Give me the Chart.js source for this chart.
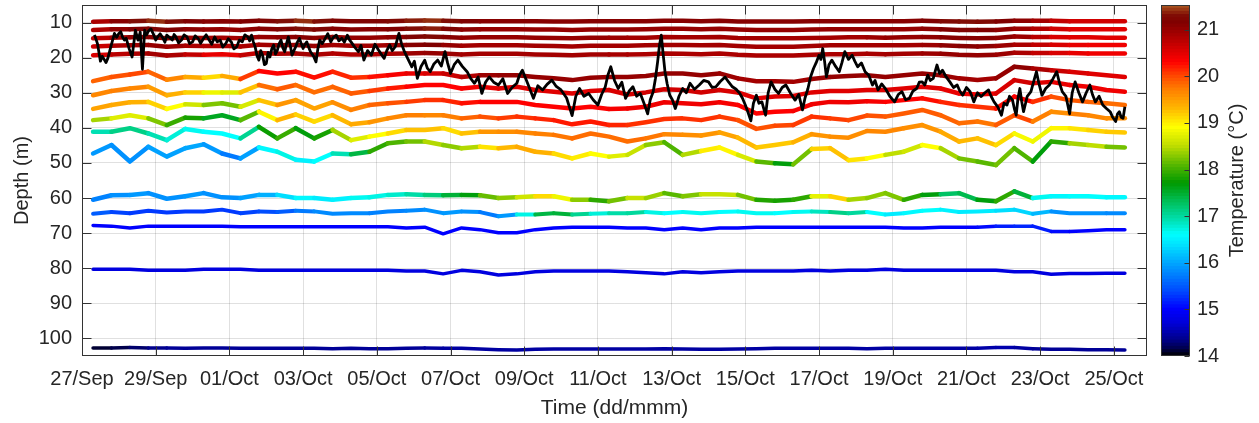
<!DOCTYPE html>
<html><head><meta charset="utf-8">
<script src="https://cdn.jsdelivr.net/npm/chart.js@4.4.0/dist/chart.umd.min.js"></script>
<style>
html,body{margin:0;padding:0;background:#fff;}
#wrap{position:relative;width:1259px;height:423px;overflow:hidden;}
#main{position:absolute;left:0;top:0;width:1259px;height:423px;}
#cbar{position:absolute;left:1150px;top:0;width:109px;height:423px;}
</style></head><body>
<div id="wrap"><canvas id="main" width="1259" height="423"></canvas><canvas id="cbar" width="109" height="423"></canvas></div>
<script>
// ---- axis ticks / labels ----
const xTickDays = [0,2,4,6,8,10,12,14,16,18,20,22,24,26,28];
const xTickLabels = ['27/Sep','29/Sep','01/Oct','03/Oct','05/Oct','07/Oct','09/Oct','11/Oct','13/Oct','15/Oct','17/Oct','19/Oct','21/Oct','23/Oct','25/Oct'];
const yTicks = [10,20,30,40,50,60,70,80,90,100];
const cbTicks = [14,15,16,17,18,19,20,21];

// ---- sample times (days since 27 Sep 00:00) ----
const tGrid = [0.3,0.8,1.3,1.8,2.3,2.8,3.3,3.8,4.3,4.8,5.3,5.8,6.3,6.8,7.3,7.8,8.3,8.8,9.3,9.8,10.3,10.8,11.3,11.8,12.3,12.8,13.3,13.8,14.3,14.8,15.3,15.8,16.3,16.8,17.3,17.8,18.3,18.8,19.3,19.8,20.3,20.8,21.3,21.8,22.3,22.8,23.3,23.8,24.3,24.8,25.3,25.8,26.3,26.8,27.3,27.8,28.3];

// ---- sensor depths (m) and temperatures (degC) ----
const dep10 = [9.8,9.6,9.6,9.5,9.8,9.6,9.7,9.6,9.7,9.5,9.6,9.5,9.7,9.5, 9.6,9.6,9.6,9.5,9.4,9.5,9.6,9.6,9.6,9.6,9.6,9.7,9.7,9.6,9.6, 9.6,9.6,9.5,9.5,9.6,9.5,9.7,9.7,9.7,9.7,9.6,9.6,9.6,9.6, 9.6,9.6,9.5,9.6,9.7,9.8,9.7,9.5,9.5,9.5,9.6,9.6,9.6,9.6];
const tmp10 = [20.7,21.0,21.2,21.4,21.4,21.2,21.1,21.1,21.1,21.2,21.2,21.4,21.4,21.2, 21.2,21.2,21.2,21.3,21.4,21.4,21.2,21.1,21.1,21.1,21.1,21.1,21.1,21.1,21.1, 21.1,21.1,21.1,21.1,21.1,21.1,21.1,21.1,21.1,21.1,21.1,21.1,21.1,21.1, 21.1,21.1,21.1,21.2,21.3,21.3,21.2,21.1,21.0,20.8,20.6,20.6,20.6,20.6];
const dep12 = [12.1,11.9,11.9,11.8,12.1,11.9,12.0,11.9,12.1,11.8,11.9,11.8,12.0,11.8, 12.0,11.9,11.9,11.8,11.7,11.8,12.0,11.9,11.9,11.9,12.0,12.0,12.1,12.0,12.0, 12.0,11.9,11.8,11.8,11.9,11.8,12.0,12.1,12.1,12.1,12.0,11.9,11.9,11.9, 11.9,11.9,11.8,11.9,12.1,12.1,12.1,11.8,11.8,11.8,11.9,11.9,11.9,11.9];
const tmp12 = [20.7,21.0,21.1,21.2,21.2,21.1,21.0,21.0,21.0,21.1,21.1,21.3,21.3,21.1, 21.1,21.1,21.1,21.2,21.4,21.3,21.1,21.0,21.0,21.0,21.0,21.0,21.0,21.0,21.0, 21.0,21.0,21.0,21.0,21.0,21.0,21.0,21.0,21.0,21.0,21.0,21.0,21.0,21.0, 21.0,21.0,21.0,21.1,21.2,21.2,21.1,21.0,20.9,20.7,20.5,20.5,20.5,20.5];
const dep14 = [14.5,14.3,14.2,14.1,14.5,14.3,14.4,14.3,14.5,14.1,14.2,14.1,14.4,14.1, 14.3,14.3,14.2,14.1,14.0,14.1,14.3,14.2,14.2,14.2,14.3,14.4,14.5,14.3,14.3, 14.3,14.3,14.1,14.2,14.2,14.1,14.4,14.5,14.5,14.5,14.4,14.3,14.2,14.2, 14.3,14.2,14.1,14.2,14.4,14.5,14.4,14.0,14.1,14.1,14.2,14.2,14.3,14.3];
const tmp14 = [20.6,20.9,21.0,21.1,21.1,21.0,20.9,20.9,20.9,21.0,21.0,21.1,21.1,21.0, 21.0,21.0,21.0,21.1,21.3,21.2,21.0,21.0,21.0,21.0,21.0,21.0,21.0,21.0,21.0, 20.9,20.9,20.9,20.9,20.9,20.9,20.9,20.9,20.9,20.9,20.9,20.9,20.9,20.9, 21.0,21.0,21.0,21.1,21.1,21.1,21.1,21.0,20.9,20.6,20.5,20.5,20.5,20.5];
const dep16 = [16.8,16.6,16.5,16.4,16.9,16.6,16.7,16.6,16.8,16.3,16.5,16.4,16.7,16.4, 16.6,16.6,16.5,16.4,16.3,16.4,16.6,16.5,16.5,16.5,16.6,16.7,16.8,16.6,16.6, 16.6,16.5,16.4,16.4,16.5,16.4,16.7,16.9,16.9,16.9,16.7,16.5,16.5,16.5, 16.5,16.5,16.4,16.5,16.7,16.8,16.7,16.3,16.3,16.3,16.4,16.4,16.4,16.4];
const tmp16 = [20.5,20.8,20.9,21.0,21.0,20.9,20.8,20.8,20.8,20.9,20.9,21.0,21.0,20.9, 20.9,20.9,20.9,21.0,21.2,21.1,20.9,20.9,20.9,20.9,20.9,20.9,20.9,20.9,20.9, 20.9,20.9,20.9,20.9,20.9,20.9,20.9,20.9,20.9,20.9,20.9,20.9,20.9,20.9, 20.9,20.9,20.9,21.0,21.1,21.1,21.0,20.9,20.8,20.6,20.5,20.4,20.4,20.4];
const dep19 = [19.3,19.1,18.9,18.8,19.4,19.1,19.2,19.0,19.3,18.7,18.9,18.8,19.2,18.8, 19.1,19.1,18.9,18.8,18.7,18.8,19.1,18.9,18.9,18.9,19.1,19.2,19.3,19.1,19.1, 19.1,19.0,18.8,18.9,19.0,18.8,19.2,19.4,19.4,19.4,19.2,19.0,19.0,18.9, 19.0,18.9,18.8,18.9,19.2,19.3,19.2,18.6,18.7,18.7,18.7,18.8,18.8,18.8];
const tmp19 = [20.4,20.7,20.8,20.9,20.9,20.8,20.6,20.3,20.6,20.8,20.8,20.9,20.9,20.8, 20.8,20.8,20.8,20.9,21.0,21.0,20.9,20.9,20.9,20.9,20.9,20.9,20.9,20.9,20.9, 20.85,20.85,20.85,20.85,20.85,20.85,20.85,20.85,20.85,20.85,20.85,20.85,20.85,20.85, 20.9,20.9,20.9,21.0,21.0,21.0,21.0,20.9,20.8,20.6,20.5,20.4,20.4,20.4];

const depA = [26.7,25.5,24.8,24.0,26.3,25.5,25.7,25.2,26.1,23.8,24.5,24.0,25.7,24.0, 25.7,25.5,25.0,24.5,24.5,24.5,25.5,25.0,25.0,25.0,25.5,25.9,26.4,25.7,25.5, 25.5,25.2,24.5,24.5,25.0,24.5,25.9,26.7,26.7,26.9,26.1,25.5,25.2,25.0, 25.5,25.0,24.5,25.0,25.9,26.4,25.9,22.6,23.1,23.6,24.0,24.5,25.0,25.5];
const tmpA = [19.8,19.9,20.0,20.0,19.7,19.6,19.2,19.0,19.8,20.3,20.3,20.3,20.2,20.3, 20.0,20.2,20.3,20.4,20.5,20.6,20.7,20.9,21.0,21.0,21.0,21.0,21.0,21.0,21.0, 21.0,21.0,21.0,21.0,21.0,21.0,20.9,20.9,20.9,20.9,20.9,21.0,21.0,21.0, 21.0,21.0,21.0,21.0,20.9,20.9,20.9,21.1,21.0,20.7,20.6,20.5,20.5,20.5];
const depB = [30.7,29.5,28.8,28.3,30.7,29.9,29.9,29.9,29.9,27.8,29.0,27.8,29.9,28.3, 30.2,29.5,28.8,28.3,27.8,27.8,28.8,28.3,28.8,28.3,29.2,29.7,30.2,29.5,29.2, 30.5,29.9,29.0,29.2,29.9,29.2,29.9,31.6,31.1,30.9,29.9,29.5,29.5,29.2, 29.2,28.8,28.3,28.8,30.2,30.5,30.2,26.4,27.3,26.9,27.8,28.3,29.2,29.7];
const tmpB = [19.6,19.7,19.7,19.6,19.4,19.3,19.0,18.6,18.8,19.7,19.9,19.9,19.7,19.9, 19.8,20.0,20.1,20.3,20.3,20.3,20.3,20.4,20.5,20.5,20.5,20.5,20.5,20.5,20.5, 20.6,20.6,20.6,20.6,20.6,20.6,20.5,20.5,20.5,20.5,20.5,20.5,20.5,20.5, 20.5,20.5,20.5,20.5,20.4,20.4,20.4,20.7,20.5,20.5,20.4,20.4,20.4,20.4];
const depC = [34.6,33.5,32.7,32.6,34.6,33.3,33.5,33.0,34.0,32.1,33.5,32.1,34.5,32.7, 34.9,33.5,33.0,32.6,32.1,32.1,33.0,32.6,32.6,32.6,33.5,34.0,34.5,34.0,34.6, 34.5,34.0,32.7,33.0,33.3,32.7,33.5,35.9,35.4,35.2,33.3,32.6,32.7,32.4, 32.6,32.1,31.6,32.6,33.5,34.0,34.5,31.1,32.6,31.1,32.1,32.6,33.0,33.5];
const tmpC = [19.5,19.4,19.4,19.3,19.0,18.8,18.4,18.1,18.3,19.0,19.5,19.6,19.3,19.6, 19.6,19.8,19.9,20.0,20.1,20.1,20.2,20.3,20.3,20.3,20.3,20.3,20.3,20.3,20.3, 20.4,20.4,20.4,20.4,20.4,20.4,20.3,20.3,20.3,20.3,20.4,20.4,20.4,20.4, 20.3,20.3,20.3,20.2,20.1,20.1,20.1,20.4,20.2,20.0,19.9,19.9,19.8,19.8];
const depD = [37.8,37.3,36.4,37.3,39.2,37.1,37.3,36.4,37.8,35.4,37.8,36.2,38.2,36.4, 39.0,38.4,37.3,36.4,36.4,36.4,37.3,36.8,37.3,36.8,37.3,37.8,39.0,38.2,39.2, 39.2,38.4,37.5,37.3,37.8,36.8,37.8,40.3,39.4,39.2,36.8,37.3,37.8,36.5, 36.8,35.9,34.9,36.4,38.7,38.2,39.2,36.4,38.2,35.4,35.9,36.4,37.3,37.3];
const tmpD = [18.2,18.6,18.8,18.6,17.9,18.0,17.6,17.5,17.6,18.6,19.3,19.4,18.9,19.3, 19.3,19.5,19.6,19.7,19.7,19.6,19.8,19.9,20.0,20.1,20.1,20.2,20.2,20.2,20.2, 20.1,20.1,20.1,20.1,20.1,20.1,20.0,19.9,20.0,20.0,20.1,20.1,20.0,20.0, 19.9,19.9,19.9,19.9,19.8,19.8,19.7,20.1,19.9,19.5,19.7,19.7,19.6,19.6];
const depE = [41.1,41.1,40.1,41.6,43.5,40.3,41.1,41.6,43.0,39.7,43.0,40.1,43.0,40.6, 43.5,42.5,41.6,40.6,40.6,40.1,41.6,41.1,41.1,41.1,41.6,42.0,43.0,41.6,42.5, 43.9,43.0,41.8,42.0,42.2,41.3,42.8,45.6,44.9,44.1,41.8,42.5,42.8,40.9, 41.1,40.1,39.2,41.1,43.9,43.0,44.9,41.6,43.9,40.1,40.1,40.6,41.1,41.3];
const tmpE = [16.8,17.0,17.2,17.0,16.8,16.7,16.6,16.6,16.6,17.5,18.0,17.9,17.4,18.2, 18.6,18.8,19.0,19.2,19.3,19.2,19.0,19.5,19.6,19.6,19.7,19.7,19.8,19.8,19.8, 19.8,19.8,19.7,19.6,19.6,19.5,19.4,19.2,19.2,19.2,19.5,19.6,19.6,19.6, 19.7,19.6,19.6,19.5,19.3,19.3,19.2,19.0,18.7,18.9,19.0,19.1,19.2,19.2];
const depF = [47.3,44.9,49.6,45.4,48.2,45.8,44.7,47.3,48.7,45.6,46.8,49.1,49.6,47.3, 47.5,46.8,44.4,43.9,43.9,44.9,45.8,45.4,45.8,45.4,46.8,47.3,48.7,47.3,48.2, 47.7,44.9,44.1,47.7,46.6,45.6,47.7,49.6,50.1,50.4,46.0,45.8,49.2,48.7, 47.7,46.8,44.9,45.8,48.7,49.6,50.6,45.8,49.6,43.9,44.4,44.9,45.4,45.6];
const tmpF = [15.8,16.0,15.7,16.0,15.9,16.0,16.0,15.8,15.6,16.3,16.8,16.6,16.4,16.8, 17.0,17.8,18.0,18.1,18.3,18.6,18.0,18.9,19.2,19.4,19.4,19.3,18.9,19.1,18.7, 18.7,18.4,18.2,17.9,19.0,19.0,18.9,18.4,17.8,17.5,18.9,19.4,19.1,19.0, 18.8,18.2,19.0,18.8,18.0,18.4,17.8,18.6,17.5,17.8,18.0,18.8,18.2,18.2];

const dep60 = [60.5,59.2,59.1,58.6,60.2,59.5,58.6,59.8,60.0,59.1,59.1,60.0,60.0,60.5,60.0,59.8,59.1,58.9,59.1,59.2,59.1,59.2,60.0,59.8,59.5,59.5,60.5,60.5,60.9, 60.0,60.0,58.6,59.5,58.9,58.9,59.1,60.5,60.8,60.5,59.5,59.5,60.5,60.0,58.6,60.5,59.1,58.9,58.6,60.5,60.9,58.1,60.0,59.5,59.5,59.5,59.8,59.8];
const tmp60 = [15.7,15.8,15.9,15.9,15.8,15.9,15.9,15.8,15.9,16.0,16.1,16.6,16.5,16.4,16.6,16.7,16.7,16.9,17.0,17.3,17.6,17.7,18.6,18.0,19.2,19.0,18.6,18.0,17.8, 18.6,18.5,18.2,18.0,18.5,18.6,18.5,17.9,17.8,17.8,18.0,19.5,18.8,18.0,18.6,17.9,17.9,17.4,17.1,17.6,17.7,18.1,16.8,16.5,16.6,16.6,16.6,16.5];
const dep64 = [64.5,64.0,64.3,63.6,64.1,63.8,63.8,63.3,64.3,63.8,64.0,63.6,63.8,64.5,64.3,64.3,63.8,63.6,63.3,64.3,63.8,64.0,65.2,64.7,64.7,64.3,64.7,64.5,64.3, 64.3,64.0,64.3,64.0,64.3,64.0,63.8,64.3,64.3,64.0,63.8,64.0,64.3,64.0,64.7,64.3,63.6,63.3,64.0,63.8,63.6,63.3,64.5,63.8,64.3,64.3,64.3,64.3];
const tmp64 = [15.6,15.4,15.3,15.3,15.3,15.3,15.3,15.3,15.3,15.4,15.4,15.6,15.8,15.8,15.8,15.8,15.7,15.8,15.8,15.9,15.9,15.8,15.6,16.2,17.2,17.6,17.3,16.8,16.7, 17.2,16.8,16.6,16.6,16.7,16.6,16.6,16.7,16.6,16.6,16.7,17.0,17.2,16.8,16.4,16.5,16.6,16.6,16.4,16.5,16.4,16.3,16.3,15.9,15.8,15.9,15.8,15.8];
const dep68 = [67.8,68.0,68.5,68.0,68.0,68.0,68.0,68.0,68.2,68.2,68.2,68.2,68.2,68.2,68.2,68.2,68.2,68.5,68.3,70.2,68.5,69.0,69.9,69.9,69.0,68.5,68.3,68.3,68.3, 68.5,68.5,69.0,68.5,69.0,68.5,68.5,68.3,68.3,68.3,68.3,68.3,68.3,68.3,68.3,68.5,68.5,68.3,68.3,68.3,68.0,68.0,68.0,69.5,69.5,69.3,69.0,69.0];
const tmp68 = [15.0,15.0,15.0,15.0,15.0,15.0,15.0,15.0,15.0,15.0,15.0,15.0,15.0,15.0,15.0,15.0,15.0,15.0,15.0,15.0,15.0,15.0,15.0,15.0,15.0,15.0,15.0,15.0,15.0, 15.0,15.0,15.0,15.0,15.0,15.0,15.0,15.0,15.0,15.0,15.0,15.0,15.0,15.0,15.0,15.0,15.0,15.0,15.0,15.0,15.1,15.2,15.2,15.1,15.0,15.0,15.0,15.0];
const dep81 = [80.3,80.3,80.3,80.6,80.6,80.6,80.3,80.3,80.3,80.6,80.6,80.6,80.6,80.6,80.6,80.6,80.6,80.8,80.8,81.6,80.6,81.0,81.9,81.6,81.0,80.8,80.8,80.8,80.8, 81.0,81.3,81.6,81.0,81.3,81.0,80.8,80.8,80.8,80.8,80.6,80.8,80.6,80.6,80.3,80.6,80.6,80.6,80.6,80.6,80.6,81.0,81.0,81.7,81.5,81.5,81.4,81.4];
const tmp81 = [14.75,14.75,14.75,14.75,14.75,14.75,14.75,14.75,14.75,14.75,14.75,14.75,14.75,14.75,14.75,14.75,14.75,14.75,14.75,14.75,14.75,14.75,14.75,14.75,14.75,14.75,14.75,14.75,14.75, 14.75,14.75,14.75,14.75,14.75,14.75,14.75,14.75,14.75,14.75,14.75,14.75,14.75,14.75,14.75,14.75,14.75,14.75,14.75,14.75,14.75,14.75,14.75,14.75,14.75,14.75,14.75,14.75];
const dep103 = [102.7,102.7,102.6,102.7,102.7,102.8,102.7,102.7,102.8,102.8,102.8,102.8,102.8,102.9,102.8,102.9,102.9,102.8,102.7,102.8,102.8,103.0,103.2,103.3,103.1,103.0,103.0,103.0,103.0, 103.0,103.0,102.9,103.0,103.1,103.1,103.0,102.9,102.8,102.8,102.8,102.8,102.8,102.9,102.8,102.8,102.8,102.8,102.8,102.8,102.6,102.6,102.9,103.1,103.1,103.2,103.2,103.3];
const tmp103 = [14.1,14.1,14.2,14.3,14.4,14.4,14.4,14.4,14.4,14.4,14.4,14.4,14.4,14.4,14.4,14.4,14.4,14.4,14.4,14.45,14.45,14.45,14.45,14.45,14.45,14.45,14.45,14.45,14.45, 14.45,14.45,14.45,14.45,14.45,14.45,14.45,14.45,14.45,14.45,14.45,14.45,14.45,14.45,14.45,14.45,14.45,14.45,14.45,14.45,14.5,14.5,14.4,14.4,14.4,14.4,14.4,14.4];

// ---- black line (mixed layer depth): times (days) and depths (m) ----
const bt = [
 0.34,0.42,0.5,0.55,0.6,0.65,0.7,0.78,0.88,0.94,
 1.0,1.05,1.1,1.15,1.2,1.28,1.36,1.45,1.52,1.58,
 1.64,1.7,1.75,1.8,1.87,1.95,2.0,2.05,2.12,2.2,
 2.25,2.3,2.37,2.45,2.5,2.55,2.62,2.7,2.77,2.85,
 2.92,3.0,3.07,3.15,3.22,3.3,3.37,3.45,3.52,3.6,
 3.67,3.75,3.82,3.9,3.97,4.05,4.12,4.2,4.27,4.35,
 4.42,4.5,4.55,4.6,4.65,4.7,4.75,4.8,4.85,4.9,
 4.95,5.0,5.05,5.1,5.15,5.2,5.25,5.3,5.35,5.4,
 5.45,5.5,5.55,5.6,5.65,5.7,5.75,5.8,5.85,5.9,
 5.95,6.0,6.05,6.1,6.15,6.2,6.28,6.35,6.4,6.45,
 6.52,6.6,6.67,6.75,6.82,6.9,6.97,7.05,7.12,7.2,
 7.25,7.3,7.4,7.5,7.57,7.65,7.75,7.85,7.95,8.05,
 8.12,8.2,8.27,8.35,8.42,8.5,8.55,8.6,8.67,8.75,
 8.85,8.95,9.02,9.1,9.2,9.3,9.37,9.45,9.55,9.65,
 9.75,9.85,9.92,10.0,10.1,10.2,10.32,10.45,10.55,10.65,
 10.75,10.85,10.95,11.05,11.17,11.3,11.42,11.55,11.67,11.8,
 11.87,11.95,12.1,12.25,12.37,12.5,12.62,12.75,12.87,13.0,
 13.15,13.3,13.4,13.5,13.62,13.75,13.87,14.0,14.1,14.2,
 14.27,14.35,14.45,14.55,14.65,14.75,14.85,14.95,15.05,15.15,
 15.25,15.35,15.42,15.5,15.56,15.62,15.67,15.72,15.77,15.82,
 15.88,15.95,16.02,16.1,16.2,16.3,16.4,16.5,16.62,16.75,
 16.87,17.0,17.1,17.2,17.32,17.45,17.55,17.65,17.75,17.85,
 17.92,18.0,18.07,18.15,18.22,18.3,18.37,18.45,18.5,18.55,
 18.62,18.7,18.8,18.9,19.0,19.1,19.22,19.35,19.45,19.55,
 19.62,19.7,19.77,19.85,19.92,20.0,20.05,20.1,20.15,20.2,
 20.27,20.35,20.45,20.55,20.62,20.7,20.8,20.9,20.97,21.05,
 21.15,21.25,21.35,21.45,21.52,21.6,21.7,21.8,21.92,22.05,
 22.15,22.25,22.35,22.45,22.55,22.65,22.72,22.8,22.87,22.95,
 23.02,23.1,23.15,23.2,23.27,23.35,23.45,23.55,23.65,23.75,
 23.82,23.9,24.0,24.1,24.15,24.2,24.3,24.4,24.5,24.6,
 24.67,24.75,24.85,24.95,25.02,25.1,25.17,25.25,25.3,25.35,
 25.4,25.45,25.5,25.55,25.65,25.75,25.82,25.9,25.97,26.05,
 26.15,26.25,26.35,26.45,26.52,26.6,26.7,26.8,26.87,26.95,
 27.05,27.15,27.25,27.35,27.42,27.5,27.6,27.7,27.8,27.9,
 27.97,28.05,28.1,28.15,28.2,28.25,28.3];
const bd = [
 13.5,16.0,21.0,19.6,20.5,21.4,20.2,17.0,13.1,14.2,
 13.1,12.6,14.1,15.0,14.5,17.5,19.8,12.2,15.0,12.7,
 23.3,12.2,13.5,12.5,11.8,13.6,15.0,14.1,13.2,14.5,
 15.6,13.6,14.2,15.0,13.4,14.1,15.8,15.0,13.5,14.1,
 16.0,15.5,13.8,14.5,15.9,14.5,13.5,15.0,16.2,14.1,
 15.5,15.0,17.0,16.0,14.6,15.5,17.5,16.9,15.0,15.5,
 13.5,14.1,15.2,13.6,15.5,17.0,19.5,20.7,18.0,19.3,
 22.0,21.7,18.5,19.8,17.5,16.4,19.0,17.9,16.0,15.0,
 17.2,18.3,16.0,14.1,16.5,19.3,18.0,16.9,15.5,14.5,
 16.0,17.4,16.2,15.5,17.0,18.3,19.5,21.2,17.5,15.0,
 16.0,14.5,13.2,15.5,14.2,13.6,15.2,14.5,15.6,13.6,
 14.8,15.5,17.0,18.3,16.5,20.7,18.0,19.3,16.2,17.9,
 19.0,20.2,18.0,16.4,18.0,16.9,15.0,13.1,16.0,18.3,
 20.5,22.6,21.0,25.9,22.5,20.7,23.0,24.0,21.8,20.7,
 22.4,18.3,21.5,24.5,22.0,20.7,22.5,24.0,26.0,27.3,
 25.5,30.2,27.0,25.5,27.0,27.8,26.0,30.2,28.5,27.3,
 25.0,23.6,27.5,31.6,28.0,29.2,27.6,26.4,28.2,29.2,
 31.5,36.5,31.0,28.8,31.0,30.2,32.0,33.5,30.5,28.3,
 25.0,22.6,26.5,28.8,27.0,31.6,29.5,28.3,31.0,30.2,
 33.0,36.0,32.0,29.7,26.0,21.2,16.5,13.6,19.0,24.0,
 27.5,30.7,32.0,34.5,31.0,28.8,30.0,27.3,29.0,27.8,
 26.5,26.9,28.5,28.3,26.8,25.5,27.0,28.3,29.0,30.2,
 31.5,33.5,35.5,38.0,33.0,30.7,33.0,32.6,34.5,36.4,
 30.0,26.9,29.0,30.2,28.5,27.8,30.0,32.1,30.5,34.9,
 31.5,28.8,25.5,23.1,21.5,19.3,20.5,17.4,21.0,25.5,
 22.0,20.7,22.5,24.0,21.5,18.3,20.5,19.3,21.0,22.6,
 21.5,24.0,25.0,27.8,26.5,29.2,27.5,28.8,31.0,32.6,
 30.5,29.7,32.0,31.6,29.5,28.8,27.0,26.9,27.8,25.0,
 26.5,25.9,24.0,22.1,24.5,23.6,25.5,26.9,28.5,27.8,
 29.5,30.7,28.5,29.7,31.0,32.6,30.0,31.1,30.0,29.2,
 31.0,32.6,34.0,36.4,33.0,33.5,31.0,32.1,34.5,36.4,
 31.5,28.8,32.5,35.4,31.0,29.7,27.0,24.0,27.5,30.7,
 28.8,27.8,26.0,24.0,27.0,29.7,31.0,36.0,30.0,26.9,
 30.0,32.6,30.0,27.8,30.5,32.6,31.0,33.5,34.5,35.4,
 37.0,38.2,36.0,35.4,37.0,37.3,34.0];

// ---- colour map (value, r, g, b) ----
const cmapStops = [
 [14.00,0,0,0],[14.15,0,0,0.3],[14.35,0,0,0.55],[14.7,0,0,0.85],[15.0,0,0,1],
 [15.4,0,0.3,1],[15.9,0,0.6,1],[16.4,0,0.9,1],[16.6,0,1,1],[16.9,0,0.88,0.7],
 [17.3,0,0.75,0.35],[17.7,0,0.6,0],[18.1,0.35,0.72,0],[18.5,0.75,0.87,0],[18.9,1,1,0],
 [19.3,1,0.72,0],[19.7,1,0.5,0],[20.0,1,0.28,0],[20.3,1,0,0],[20.6,0.82,0,0],
 [20.9,0.64,0,0],[21.15,0.5,0,0],[21.3,0.5,0.05,0.02],[21.4,0.58,0.18,0.06],[21.53,0.68,0.36,0.14]];
const cbMin = 14, cbMax = 21.53;

function tempColor(v){
  if (v <= cmapStops[0][0]) v = cmapStops[0][0];
  if (v >= cmapStops[cmapStops.length-1][0]) v = cmapStops[cmapStops.length-1][0];
  for (let i=0;i<cmapStops.length-1;i++){
    const a=cmapStops[i], b=cmapStops[i+1];
    if (v>=a[0] && v<=b[0]){
      const f=(v-a[0])/(b[0]-a[0]||1);
      const r=Math.round(255*(a[1]+f*(b[1]-a[1])));
      const g=Math.round(255*(a[2]+f*(b[2]-a[2])));
      const bl=Math.round(255*(a[3]+f*(b[3]-a[3])));
      return 'rgb('+r+','+g+','+bl+')';
    }
  }
  return '#000';
}

const FONT = '"Liberation Sans", Arial, Helvetica, sans-serif';
Chart.defaults.font.family = FONT;
Chart.defaults.color = '#262626';

const sensors = [[dep10,tmp10,4.5],[dep12,tmp12,4.5],[dep14,tmp14,4.5],[dep16,tmp16,4.5],[dep19,tmp19,4.5],
 [depA,tmpA,4.5],[depB,tmpB,4.5],[depC,tmpC,4.5],[depD,tmpD,4.5],[depE,tmpE,4.5],[depF,tmpF,4.5],
 [dep60,tmp60,4.5],[dep64,tmp64,4],[dep68,tmp68,3.5],[dep81,tmp81,3.5],[dep103,tmp103,3.5]];

const datasets = sensors.map(([d,t,w]) => ({
  data: tGrid.map((x,i)=>({x:x, y:d[i]})),
  borderColor: tempColor(t[0]),
  borderWidth: w,
  borderCapStyle: 'round',
  borderJoinStyle: 'round',
  pointRadius: 0,
  tension: 0,
  fill: false,
  order: 2,
  segment: { borderColor: c => tempColor((t[c.p0DataIndex]+t[c.p1DataIndex])/2) }
}));
datasets.push({
  data: bt.map((x,i)=>({x:x, y:bd[i]})),
  borderColor: '#000', borderWidth: 2.8, borderJoinStyle: 'round', pointRadius: 0, tension: 0, fill: false, order: 0
});

const boxPlugin = {
  id: 'box',
  afterDraw(chart){
    const {ctx, chartArea:a, scales:{x,y}} = chart;
    ctx.save();
    ctx.strokeStyle = '#333'; ctx.lineWidth = 1;
    const L=Math.round(a.left)+0.5, R=Math.round(a.right)-0.5, T=Math.round(a.top)+0.5, B=Math.round(a.bottom)-0.5;
    ctx.strokeRect(L,T,R-L,B-T);
    ctx.beginPath();
    const tl = 9;
    xTickDays.forEach(v=>{ const p=Math.round(x.getPixelForValue(v))+0.5; if(p<L-1||p>R+1) return;
      ctx.moveTo(p,B); ctx.lineTo(p,B-tl); ctx.moveTo(p,T); ctx.lineTo(p,T+tl); });
    yTicks.forEach(v=>{ const p=Math.round(y.getPixelForValue(v))+0.5;
      ctx.moveTo(L,p); ctx.lineTo(L+tl,p); ctx.moveTo(R,p); ctx.lineTo(R-tl,p); });
    ctx.stroke();
    ctx.restore();
  }
};

new Chart(document.getElementById('main'), {
  type: 'line',
  data: { datasets },
  options: {
    responsive: false, animation: false, devicePixelRatio: 1,
    layout: { padding: { left: 0, top: 5, right: 112, bottom: 0 } },
    plugins: { legend: { display: false }, tooltip: { enabled: false } },
    scales: {
      x: {
        type: 'linear', min: 0, max: 28.9,
        afterBuildTicks: s => { s.ticks = xTickDays.map(v => ({ value: v })); },
        afterFit: s => { s.height = 67; s.paddingLeft = 0; s.paddingRight = 0; },
        ticks: { callback: v => xTickLabels[xTickDays.indexOf(v)], font: { size: 20 }, padding: 11, maxRotation: 0, autoSkip: false, color: '#262626' },
        grid: { color: 'rgba(0,0,0,0.12)', drawTicks: false },
        border: { display: false },
        title: { display: true, text: 'Time (dd/mmm)', font: { size: 21 }, padding: { top: 0, bottom: 2 }, color: '#262626' }
      },
      y: {
        type: 'linear', reverse: true, min: 5, max: 105,
        afterBuildTicks: s => { s.ticks = yTicks.map(v => ({ value: v })); },
        afterFit: s => { s.width = 82; s.paddingTop = 0; s.paddingBottom = 0; },
        ticks: { font: { size: 20 }, padding: 10, autoSkip: false, color: '#262626' },
        grid: { color: 'rgba(0,0,0,0.12)', drawTicks: false },
        border: { display: false },
        title: { display: true, text: 'Depth (m)', font: { size: 20 }, padding: { top: 10, bottom: 0 }, color: '#262626' }
      }
    }
  },
  plugins: [boxPlugin]
});

// ---- colour bar ----
const nBands = 110;
const cbBands = [];
for (let i=0;i<nBands;i++){ const lo=cbMin+(cbMax-cbMin)*i/nBands, hi=cbMin+(cbMax-cbMin)*(i+1)/nBands; cbBands.push([lo,hi]); }

const cbPlugin = {
  id: 'cbframe',
  afterDraw(chart){
    const {ctx, chartArea:a, scales:{y}} = chart;
    ctx.save();
    ctx.strokeStyle = '#333'; ctx.lineWidth = 1;
    const L=Math.round(a.left)+0.5, R=Math.round(a.right)-0.5, T=Math.round(a.top)+0.5, B=Math.round(a.bottom)-0.5;
    ctx.strokeRect(L,T,R-L,B-T);
    ctx.beginPath();
    cbTicks.forEach(v=>{ const p=Math.round(y.getPixelForValue(v))+0.5; ctx.moveTo(R,p); ctx.lineTo(R-5,p); });
    ctx.stroke();
    ctx.translate(87, (a.top+a.bottom)/2);
    ctx.rotate(-Math.PI/2);
    ctx.fillStyle = '#262626';
    ctx.font = '20px ' + FONT;
    ctx.textAlign = 'center'; ctx.textBaseline = 'middle';
    ctx.fillText('Temperature (\u00B0C)', 0, 0);
    ctx.restore();
  }
};

new Chart(document.getElementById('cbar'), {
  type: 'bar',
  data: { labels: [''], datasets: cbBands.map(([lo,hi]) => ({
    data: [[lo, hi + 0.004]], backgroundColor: tempColor((lo+hi)/2), borderWidth: 0,
    grouped: false, barPercentage: 1, categoryPercentage: 1 })) },
  options: {
    responsive: false, animation: false, devicePixelRatio: 1,
    layout: { padding: { left: 11, top: 5, right: 0, bottom: 67 } },
    plugins: { legend: { display: false }, tooltip: { enabled: false } },
    scales: {
      x: { display: false },
      y: {
        position: 'right', min: cbMin, max: cbMax,
        afterBuildTicks: s => { s.ticks = cbTicks.map(v => ({ value: v })); },
        afterFit: s => { s.width = 69; s.paddingTop = 0; s.paddingBottom = 0; },
        ticks: { font: { size: 20 }, padding: 7, color: '#262626' },
        grid: { display: false, drawTicks: false },
        border: { display: false }
      }
    }
  },
  plugins: [cbPlugin]
});
</script>
</body></html>
